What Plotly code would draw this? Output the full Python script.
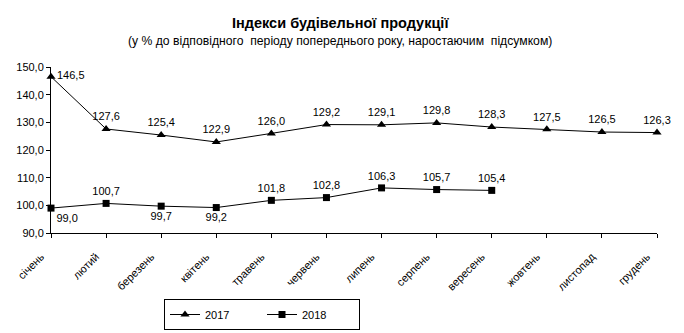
import plotly.graph_objects as go

months = ["січень", "лютий", "березень", "квітень", "травень", "червень",
          "липень", "серпень", "вересень", "жовтень", "листопад", "грудень"]
values_2017 = [146.5, 127.6, 125.4, 122.9, 126.0, 129.2, 129.1, 129.8, 128.3, 127.5, 126.5, 126.3]
values_2018 = [99.0, 100.7, 99.7, 99.2, 101.8, 102.8, 106.3, 105.7, 105.4]
y_ticks = [90, 100, 110, 120, 130, 140, 150]

pos_2017 = ["middle right"] + ["top center"] * 11
pos_2018 = ["bottom right", "top center", "bottom center", "bottom center",
            "top center", "top center", "top center", "top center", "top center"]

FONT = "Liberation Sans"

fig = go.Figure()
fig.add_trace(go.Scatter(
    x=list(range(len(values_2017))), y=values_2017, name="2017",
    mode="lines+markers+text",
    line=dict(color="black", width=1),
    marker=dict(symbol="triangle-up", size=8, color="black"),
    text=values_2017, texttemplate="%{y:.1f}", textposition=pos_2017,
    textfont=dict(size=11, color="black", family=FONT),
    cliponaxis=False,
))
fig.add_trace(go.Scatter(
    x=list(range(len(values_2018))), y=values_2018, name="2018",
    mode="lines+markers+text",
    line=dict(color="black", width=1),
    marker=dict(symbol="square", size=7, color="black"),
    text=values_2018, texttemplate="%{y:.1f}", textposition=pos_2018,
    textfont=dict(size=11, color="black", family=FONT),
    cliponaxis=False,
))

plot_h = 333 - 67 - 100
plot_w = 684 - 51 - 27

fig.update_layout(
    width=684, height=333,
    margin=dict(l=51, r=27, t=67, b=100, autoexpand=False),
    paper_bgcolor="white", plot_bgcolor="white",
    separators=", ",
    font=dict(family=FONT, size=11, color="black"),
    showlegend=True,
    legend=dict(
        orientation="h", x=(262 - 51) / plot_w, xanchor="center",
        y=-(299 - 233) / plot_h, yanchor="top",
        bordercolor="black", borderwidth=1, bgcolor="white",
        font=dict(size=11, family=FONT), entrywidth=52, itemwidth=30,
    ),
    annotations=[
        dict(text="<b>Індекси будівельної продукції</b>",
             x=(340 - 51) / plot_w, y=1 + (67 - 23) / plot_h,
             xref="paper", yref="paper", showarrow=False,
             xanchor="center", yanchor="middle",
             font=dict(size=14.5, family=FONT)),
        dict(text="(у % до відповідного  періоду попереднього року, наростаючим  підсумком)",
             x=(340 - 51) / plot_w, y=1 + (67 - 41) / plot_h,
             xref="paper", yref="paper", showarrow=False,
             xanchor="center", yanchor="middle",
             font=dict(size=12.2, family=FONT)),
    ],
)

fig.update_xaxes(
    range=[0, 11], tickmode="array", tickvals=list(range(12)), ticktext=months,
    tickangle=-45, showline=True, linecolor="black", linewidth=1,
    ticks="outside", ticklen=4, tickcolor="black", showgrid=False, zeroline=False,
    tickfont=dict(size=11, family=FONT), ticklabelstandoff=8, ticklabelshift=-10,
    automargin=False,
)
fig.update_yaxes(
    range=[90, 150], tickvals=y_ticks, tickformat=".1f",
    showline=True, linecolor="black", linewidth=1,
    ticks="outside", ticklen=4, tickcolor="black", showgrid=False, zeroline=False,
    tickfont=dict(size=11, family=FONT), automargin=False,
)

fig.write_html("out.html")
